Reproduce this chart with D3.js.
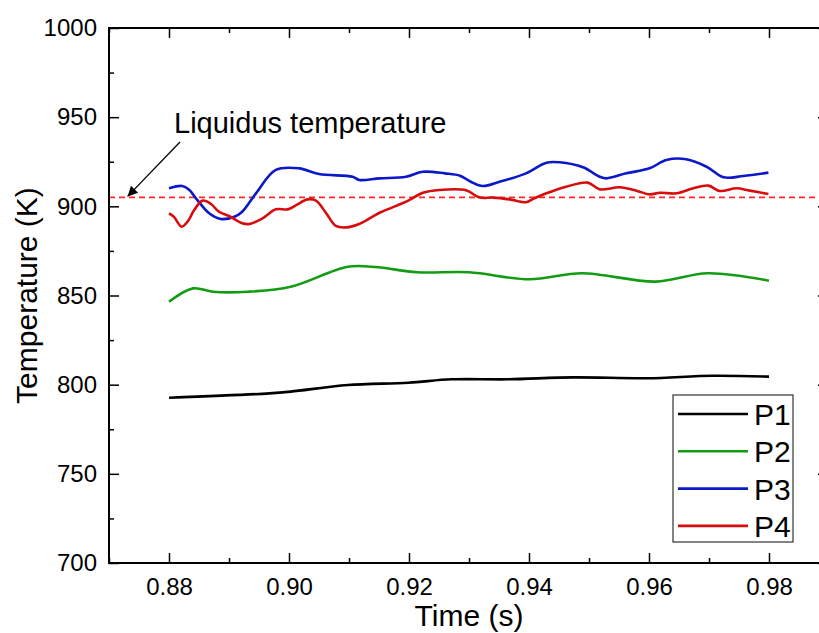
<!DOCTYPE html>
<html>
<head>
<meta charset="utf-8">
<script src="https://cdn.jsdelivr.net/npm/d3@7"></script>
<style>
	body { margin: 0; background: #fff; }
	svg { display: block; }
	svg text { font-family: "Liberation Sans", Arial, sans-serif; }
</style>
</head>
<body>
<div id="chart"></div>
<script>
// series: time (s) / temperature (K)
var p1Time = [0.8800, 0.8967, 0.9003, 0.9098, 0.9199, 0.9271, 0.9365, 0.9474, 0.9597, 0.9706, 0.9800];
var p1Temp = [792.7, 795.1, 796.1, 799.8, 801.1, 803.0, 803.0, 804.1, 803.6, 805.0, 804.5];

var p2Time = [0.8800, 0.8840, 0.8873, 0.8931, 0.9003, 0.9098, 0.9148, 0.9213, 0.9300, 0.9401, 0.9488, 0.9611, 0.9698, 0.9800];
var p2Temp = [846.5, 854.0, 852.1, 852.1, 854.9, 866.1, 865.8, 863.0, 863.0, 859.1, 862.5, 857.8, 862.5, 858.3];

var p3Time = [0.8800, 0.8822, 0.8833, 0.8847, 0.8867, 0.8886, 0.8909, 0.8922, 0.8945, 0.8978, 0.9017, 0.9050, 0.9106,
	0.9117, 0.9151, 0.9195, 0.9223, 0.9260, 0.9285, 0.9303, 0.9323, 0.9351, 0.9395, 0.9429, 0.9451, 0.9490, 0.9518,
	0.9529, 0.9562, 0.9601, 0.9629, 0.9662, 0.9696, 0.9724, 0.9757, 0.9799];
var p3Temp = [910.1, 911.4, 909.5, 903.6, 896.1, 892.9, 894.2, 897.0, 907.3, 920.4, 921.3, 918.1, 916.6,
	914.8, 915.7, 916.6, 919.4, 918.5, 917.2, 913.8, 911.4, 913.8, 918.5, 924.5, 924.7, 921.9, 916.6,
	915.7, 918.5, 921.3, 926.0, 926.4, 922.2, 916.3, 917.0, 918.9];

var p4Time = [0.8800, 0.8808, 0.8821, 0.8831, 0.8842, 0.8856, 0.8870, 0.8883, 0.8900, 0.8922, 0.8934, 0.8956, 0.8978,
	0.8998, 0.9012, 0.9031, 0.9045, 0.9062, 0.9078, 0.9095, 0.9117, 0.9151, 0.9189, 0.9201, 0.9223, 0.9251, 0.9295,
	0.9318, 0.9340, 0.9368, 0.9395, 0.9409, 0.9429, 0.9462, 0.9498, 0.9518, 0.9551, 0.9579, 0.9601, 0.9618, 0.9646,
	0.9674, 0.9699, 0.9718, 0.9746, 0.9768, 0.9799];
var p4Temp = [896.1, 894.2, 888.6, 891.4, 897.9, 903.2, 901.3, 897.0, 894.6, 890.5, 890.1, 893.3, 898.3,
	898.3, 900.7, 903.9, 903.2, 896.1, 889.0, 888.2, 890.1, 896.4, 901.7, 903.6, 907.6, 909.2, 909.0,
	904.9, 904.9, 903.9, 902.3, 904.5, 907.3, 911.0, 913.3, 909.5, 910.7, 908.8, 906.7, 907.6, 907.3,
	910.1, 911.6, 908.6, 910.1, 908.8, 906.9];

var seriesNames = ["P1", "P2", "P3", "P4"];
var seriesColours = ["#000000", "#139c13", "#0c18c8", "#d80c0c"];

var xTicks = [0.88, 0.90, 0.92, 0.94, 0.96, 0.98];
var xMinorTicks = [0.87, 0.89, 0.91, 0.93, 0.95, 0.97];
var yTicks = [700, 750, 800, 850, 900, 950, 1000];
var yMinorTicks = [725, 775, 825, 875, 925, 975];

var liquidus = 905;

var width = 819, height = 633;
var margin = { left: 109, top: 28, right: 829, bottom: 563 };

var svg = d3.select("#chart").append("svg")
	.attr("width", width)
	.attr("height", height);

var x = d3.scaleLinear().domain([0.87, 0.99]).range([margin.left, margin.right]);
var y = d3.scaleLinear().domain([700, 1000]).range([margin.bottom, margin.top]);

var series = [
	{ name: seriesNames[0], colour: seriesColours[0], time: p1Time, temp: p1Temp },
	{ name: seriesNames[1], colour: seriesColours[1], time: p2Time, temp: p2Temp },
	{ name: seriesNames[2], colour: seriesColours[2], time: p3Time, temp: p3Temp },
	{ name: seriesNames[3], colour: seriesColours[3], time: p4Time, temp: p4Temp }
];

// liquidus dashed line
svg.append("line")
	.attr("x1", x(0.87))
	.attr("x2", x(0.99))
	.attr("y1", y(liquidus))
	.attr("y2", y(liquidus))
	.attr("stroke", "#ff2828")
	.attr("stroke-width", 1.8)
	.attr("stroke-dasharray", "6,4");

var line = d3.line()
	.x(function(d) { return x(d[0]); })
	.y(function(d) { return y(d[1]); })
	.curve(d3.curveCatmullRom.alpha(0.5));

svg.append("g").selectAll(".series")
	.data(series)
  .enter().append("path")
	.attr("class", "series")
	.attr("fill", "none")
	.attr("stroke", function(d) { return d.colour; })
	.attr("stroke-width", 2.6)
	.attr("stroke-linejoin", "round")
	.attr("d", function(d) {
		return line(d.time.map(function(t, i) { return [t, d.temp[i]]; }));
	});

// axes, Origin style: ticks pointing inward on all four sides
function styleAxis(g) {
	g.attr("font-family", null).attr("font-size", null);
	g.select(".domain").remove();
	g.selectAll("line").attr("stroke", "#000").attr("stroke-width", 1.5);
	g.selectAll("text").attr("fill", "#000").style("font-size", "24px");
}

svg.append("g")
	.attr("transform", "translate(0," + margin.bottom + ")")
	.call(d3.axisBottom(x).tickValues(xTicks).tickSizeInner(-10).tickPadding(15)
		.tickFormat(d3.format(".2f")))
	.call(styleAxis);
svg.append("g")
	.attr("transform", "translate(0," + margin.bottom + ")")
	.call(d3.axisBottom(x).tickValues(xMinorTicks).tickSizeInner(-5).tickFormat(""))
	.call(styleAxis);
svg.append("g")
	.attr("transform", "translate(0," + margin.top + ")")
	.call(d3.axisTop(x).tickValues(xTicks).tickSizeInner(-10).tickFormat(""))
	.call(styleAxis);
svg.append("g")
	.attr("transform", "translate(0," + margin.top + ")")
	.call(d3.axisTop(x).tickValues(xMinorTicks).tickSizeInner(-5).tickFormat(""))
	.call(styleAxis);

svg.append("g")
	.attr("transform", "translate(" + margin.left + ",0)")
	.call(d3.axisLeft(y).tickValues(yTicks).tickSizeInner(-10).tickPadding(12)
		.tickFormat(d3.format("d")))
	.call(styleAxis);
svg.append("g")
	.attr("transform", "translate(" + margin.left + ",0)")
	.call(d3.axisLeft(y).tickValues(yMinorTicks).tickSizeInner(-5).tickFormat(""))
	.call(styleAxis);
svg.append("g")
	.attr("transform", "translate(" + margin.right + ",0)")
	.call(d3.axisRight(y).tickValues(yTicks).tickSizeInner(-11).tickFormat(""))
	.call(styleAxis);
svg.append("g")
	.attr("transform", "translate(" + margin.right + ",0)")
	.call(d3.axisRight(y).tickValues(yMinorTicks).tickSizeInner(-6).tickFormat(""))
	.call(styleAxis);

// frame
svg.append("rect")
	.attr("x", margin.left)
	.attr("y", margin.top)
	.attr("width", margin.right - margin.left)
	.attr("height", margin.bottom - margin.top)
	.attr("fill", "none")
	.attr("stroke", "#000")
	.attr("stroke-width", 2);

// axis titles
svg.append("text")
	.attr("x", (margin.left + margin.right) / 2)
	.attr("y", 626)
	.attr("text-anchor", "middle")
	.style("font-size", "30px")
	.text("Time (s)");

svg.append("text")
	.attr("transform", "translate(37," + ((margin.top + margin.bottom) / 2) + ") rotate(-90)")
	.attr("text-anchor", "middle")
	.style("font-size", "30px")
	.text("Temperature (K)");

// annotation with arrow
var defs = svg.append("defs");
defs.append("marker")
	.attr("id", "arrow")
	.attr("viewBox", "0 0 10 10")
	.attr("refX", 10)
	.attr("refY", 5)
	.attr("markerWidth", 13)
	.attr("markerHeight", 10)
	.attr("markerUnits", "userSpaceOnUse")
	.attr("orient", "auto")
  .append("path")
	.attr("d", "M0,0 L10,5 L0,10 Z")
	.attr("fill", "#000");

svg.append("line")
	.attr("x1", 180)
	.attr("y1", 142)
	.attr("x2", x(0.8731))
	.attr("y2", y(liquidus) - 1)
	.attr("stroke", "#000")
	.attr("stroke-width", 1.3)
	.attr("marker-end", "url(#arrow)");

svg.append("text")
	.attr("x", 174)
	.attr("y", 133)
	.style("font-size", "29px")
	.text("Liquidus temperature");

// legend
var legend = svg.append("g").attr("class", "legend");
legend.append("rect")
	.attr("x", 673)
	.attr("y", 395)
	.attr("width", 120)
	.attr("height", 147)
	.attr("fill", "#fff")
	.attr("stroke", "#333")
	.attr("stroke-width", 1.2);

var item = legend.selectAll(".item")
	.data(series)
  .enter().append("g")
	.attr("class", "item")
	.attr("transform", function(d, i) { return "translate(0," + (414 + i * 37.3) + ")"; });

item.append("line")
	.attr("x1", 678)
	.attr("x2", 748)
	.attr("stroke", function(d) { return d.colour; })
	.attr("stroke-width", 2.6);

item.append("text")
	.attr("x", 754)
	.attr("y", 11)
	.style("font-size", "30px")
	.text(function(d) { return d.name; });
</script>
</body>
</html>
